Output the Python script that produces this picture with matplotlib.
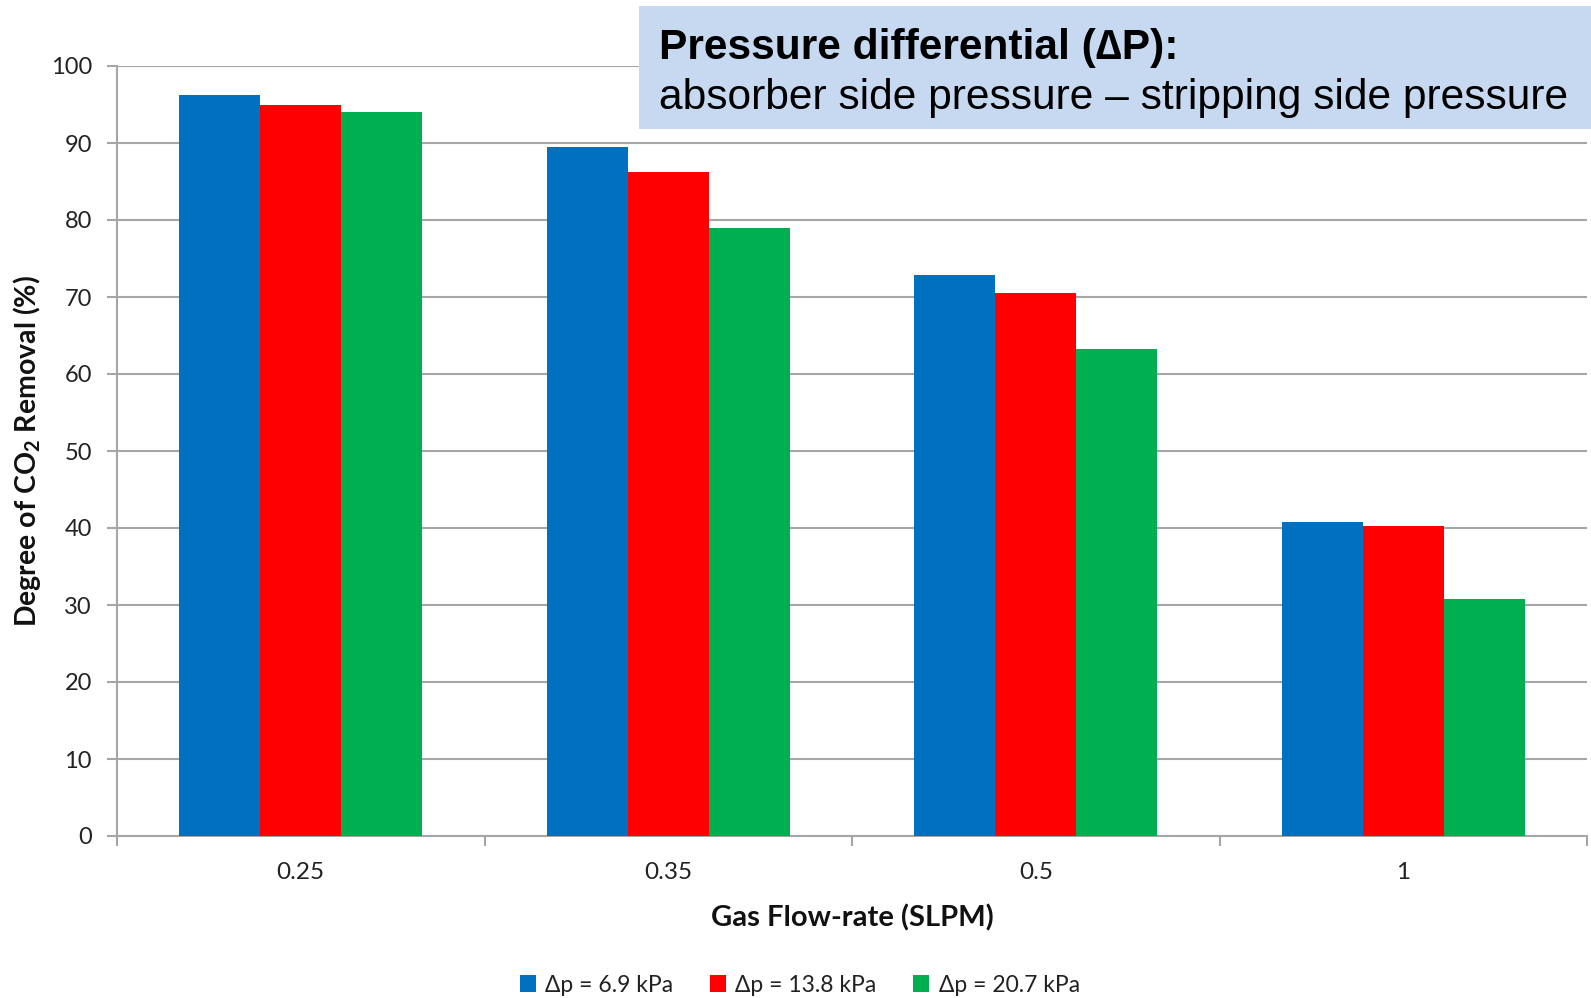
import numpy as np
import matplotlib
matplotlib.use("Agg")
import matplotlib.pyplot as plt
from matplotlib.patches import Rectangle

# Data
flow_rates = ["0.25", "0.35", "0.5", "1"]
series_labels = ["\u0394p = 6.9 kPa", "\u0394p = 13.8 kPa", "\u0394p = 20.7 kPa"]
dp_6_9 = [96.2, 89.5, 72.8, 40.8]
dp_13_8 = [94.9, 86.2, 70.5, 40.2]
dp_20_7 = [94.0, 78.9, 63.2, 30.8]
series_values = [dp_6_9, dp_13_8, dp_20_7]
colors = ["#0070C0", "#FF0000", "#00B050"]
y_ticks = list(range(0, 101, 10))

plt.rcParams["font.family"] = ["Lato", "DejaVu Sans"]
plt.rcParams["mathtext.fontset"] = "custom"
plt.rcParams["mathtext.rm"] = "Lato:bold"
plt.rcParams["mathtext.default"] = "rm"

fig = plt.figure(figsize=(15.91, 9.98), dpi=100)
ax = fig.add_axes([117 / 1591, 1 - 836 / 998, 1470 / 1591, 770 / 998])

grid_color = "#A6A6A6"
x = np.arange(len(flow_rates))
bar_w = 0.22
for i, (vals, col, lab) in enumerate(zip(series_values, colors, series_labels)):
    ax.bar(x + (i - 1) * bar_w, vals, width=bar_w, color=col, label=lab,
           zorder=3, linewidth=0)

ax.set_xlim(-0.5, len(flow_rates) - 0.5)
ax.set_ylim(0, 100)
ax.set_yticks(y_ticks)
ax.yaxis.grid(True, color=grid_color, linewidth=1.5, zorder=0)
ax.set_axisbelow(True)

# Category boundaries carry the tick marks; labels sit at category centres
ax.set_xticks(np.arange(-0.5, len(flow_rates)), labels=[""] * (len(flow_rates) + 1))
ax.set_xticks(x, labels=flow_rates, minor=True)
ax.tick_params(axis="x", which="major", direction="out", length=7, width=1.5,
               color=grid_color)
ax.tick_params(axis="x", which="minor", length=0, pad=19, labelsize=17.5,
               labelcolor="#222222")
ax.tick_params(axis="y", direction="out", length=7, width=1.5, color=grid_color,
               pad=11, labelsize=17, labelcolor="#222222")

for side in ["top", "right"]:
    ax.spines[side].set_visible(False)
for side in ["left", "bottom"]:
    ax.spines[side].set_color(grid_color)
    ax.spines[side].set_linewidth(1.5)

fig.text(852 / 1591, 1 - 926 / 998, "Gas Flow-rate (SLPM)", ha="center",
         va="baseline", fontsize=21, fontweight="bold", color="#111111")
fig.text(27 / 1591, 1 - 451 / 998, r"Degree of CO$_2$ Removal (%)",
         ha="center", va="center", rotation=90, fontsize=20.5,
         fontweight="bold", color="#111111")

leg = fig.legend(loc="center", bbox_to_anchor=(800 / 1591, 1 - 985 / 998),
                 ncol=3, frameon=False, fontsize=16.5, handlelength=0.7,
                 handleheight=0.7, handletextpad=0.4, columnspacing=1.6)
for t in leg.get_texts():
    t.set_color("#222222")

# Annotation box in the upper right
fig.patches.append(Rectangle((639 / 1591, 1 - 129 / 998), 952 / 1591, 123 / 998,
                             transform=fig.transFigure, facecolor="#C6D9F1",
                             edgecolor="none", zorder=5))
fig.text(659 / 1591, 1 - 59 / 998, "Pressure differential (\u2206P):",
         ha="left", va="baseline", fontsize=30.6, fontweight="bold",
         family="Liberation Sans", color="black", zorder=6)
fig.text(659 / 1591, 1 - 109 / 998,
         "absorber side pressure \u2013 stripping side pressure",
         ha="left", va="baseline", fontsize=30.6, family="Liberation Sans",
         color="black", zorder=6)

fig.savefig("out.png", dpi=100)
